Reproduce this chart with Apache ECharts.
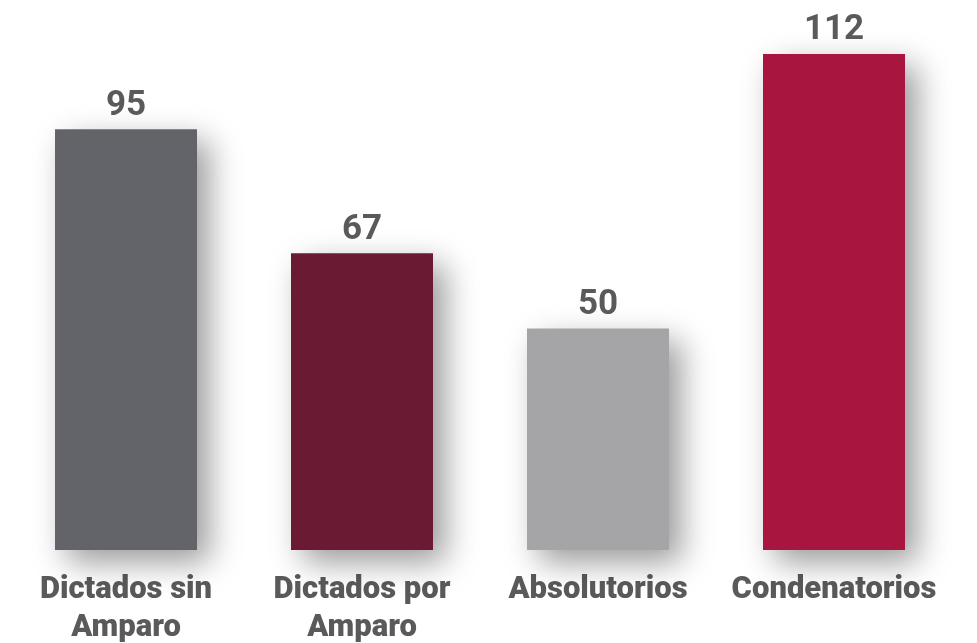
<!DOCTYPE html>
<html>
<head>
<meta charset="utf-8">
<script src="https://cdn.jsdelivr.net/npm/echarts@6/dist/echarts.min.js"></script>
<style>
  html, body { margin: 0; padding: 0; background: #ffffff; }
  #chart { width: 977px; height: 643px; }
</style>
</head>
<body>
<div id="chart"></div>
<script>
const categories = ['Dictados sin\nAmparo', 'Dictados por\nAmparo', 'Absolutorios', 'Condenatorios'];
const values = [95, 67, 50, 112];
const barColors = ['#636469', '#6a1b33', '#a5a5a7', '#a8153f'];

let chart = echarts.init(document.getElementById('chart'));
let option = {
  animation: false,
  grid: {
    left: 8,
    right: 25,
    top: 54,
    bottom: 93,
    containLabel: false,
    outerBoundsMode: 'none'
  },
  xAxis: {
    type: 'category',
    data: categories,
    axisLine: {show: false},
    axisTick: {show: false},
    axisLabel: {
      interval: 0,
      margin: 21,
      color: '#5a5a5a',
      fontFamily: 'Roboto',
      fontWeight: 900,
      fontSize: 31,
      lineHeight: 38
    }
  },
  yAxis: {
    type: 'value',
    min: 0,
    max: 112,
    show: false,
    splitLine: {show: false}
  },
  series: [
    {
      type: 'bar',
      barWidth: 142,
      data: values.map((v, i) => ({
        value: v,
        itemStyle: {color: barColors[i]}
      })),
      itemStyle: {
        shadowColor: 'rgba(0,0,0,0.4)',
        shadowBlur: 30,
        shadowOffsetX: 12,
        shadowOffsetY: 12
      },
      label: {
        show: true,
        position: 'top',
        distance: 6,
        color: '#5a5a5a',
        fontFamily: 'Roboto',
        fontWeight: 'bold',
        fontSize: 35
      }
    }
  ]
};
chart.setOption(option);
</script>
</body>
</html>
